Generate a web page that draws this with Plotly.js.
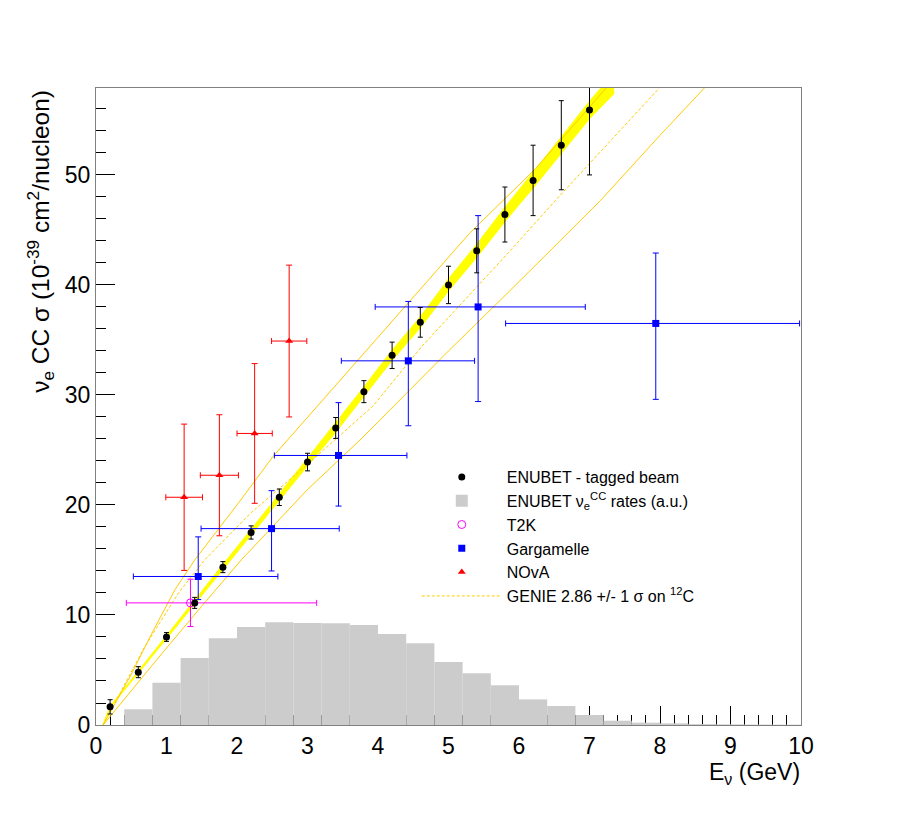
<!DOCTYPE html>
<html><head><meta charset="utf-8">
<script src="https://cdn.plot.ly/plotly-3.0.1.min.js"></script>
<style>html,body{margin:0;padding:0;background:#fff}</style>
</head><body>
<div id="chart" style="width:900px;height:813px"></div>
<script>
// ENUBET tagged beam points
const enuX = [0.2,0.6,1.0,1.4,1.8,2.2,2.6,3.0,3.4,3.8,4.2,4.6,5.0,5.4,5.8,6.2,6.6,7.0];
const enuY = [1.65,4.8,8.0,11.1,14.35,17.5,20.7,23.9,27.0,30.3,33.6,36.6,40.0,43.1,46.4,49.5,52.7,55.9];
const enuErr = [0.65,0.5,0.4,0.5,0.5,0.6,0.75,0.8,0.95,1.0,1.2,1.35,1.7,2.0,2.5,3.2,4.05,5.9];

// ENUBET band (yellow)
const bandX  = [0.1,0.2,0.6,1.0,1.4,1.8,2.2,2.6,3.0,3.4,3.8,4.2,4.6,5.0,5.4,5.8,6.2,6.6,7.0,7.35];
const bandLo = [0.0,1.59,4.7,7.85,10.9,14.11,17.22,20.38,23.54,26.6,29.87,33.13,36.1,39.45,42.5,45.75,48.8,51.95,55.1,57.4];
const bandHi = [0.05,1.71,4.9,8.15,11.3,14.59,17.78,21.02,24.26,27.4,30.73,34.07,37.1,40.55,43.7,47.05,50.2,53.45,56.7,59.3];

// ENUBET nu_e CC rates histogram (a.u.), bin centres, width 0.4
const histX = [0.6,1.0,1.4,1.8,2.2,2.6,3.0,3.4,3.8,4.2,4.6,5.0,5.4,5.8,6.2,6.6,7.0,7.4,7.8,8.2,8.6,9.0,9.4,9.8];
const histY = [1.43,3.85,6.09,7.88,8.91,9.33,9.27,9.24,9.09,8.27,7.42,5.73,4.70,3.61,2.33,1.73,0.91,0.39,0.21,0.15,0.08,0.06,0.04,0.03];

// T2K
const t2kX = [1.34], t2kY = [11.1], t2kXm = [0.91], t2kXp = [1.79], t2kYe = [2.15];

// Gargamelle
const garX  = [1.45,2.49,3.44,4.43,5.42,7.94];
const garY  = [13.5,17.85,24.5,33.1,38.0,36.5];
const garXm = [0.92,1.0,0.91,0.95,1.46,2.13];
const garXp = [1.13,0.96,0.97,0.94,1.52,2.04];
const garYm = [2.1,3.85,4.6,5.9,8.6,6.9];
const garYp = [3.6,3.45,4.8,5.4,8.3,6.4];

// NOvA
const novX  = [1.25,1.75,2.25,2.74];
const novY  = [20.7,22.7,26.5,34.9];
const novXe = [0.26,0.27,0.25,0.25];
const novYe = [6.65,5.5,6.35,6.9];

// GENIE 2.86 +/- 1 sigma on 12C
const genUpX  = [0.1,0.5,0.79,1.12,1.40,2.0,2.51,3.31,4.3,5.3,6.24,7.25];
const genUpY  = [0,4.6,8.3,12.3,15.0,20.0,24.4,30.2,37.4,44.7,50.6,58.0];
const genMidX = [0.1,0.69,1.17,1.54,2.2,3.0,3.93,4.62,5.86,6.52,7.99];
const genMidY = [0,7.1,12.0,15.0,19.3,23.7,29.0,34.4,43.0,47.7,57.9];
const genLoX  = [0.1,0.6,1.0,1.5,2.06,2.5,3.0,3.76,4.16,5.0,5.86,6.48,7.16,8.0,8.63];
const genLoY  = [0,3.9,7.0,10.8,15.0,18.0,21.4,26.0,28.6,34.0,39.4,43.4,47.7,53.6,57.9];

const FONT = 'Liberation Sans, Arial, Helvetica, sans-serif';
const ORANGE = '#ffcc00';

const traces = [
  {type:'bar', x:histX, y:histY, width:0.4, marker:{color:'#cccccc', line:{width:0}},
   name:'ENUBET ν<sub>e</sub><sup>CC</sup> rates (a.u.)', legendrank:2, hoverinfo:'skip'},
  {type:'scatter', mode:'lines', x:bandX, y:bandLo, line:{color:'#ffff00', width:1},
   showlegend:false, hoverinfo:'skip'},
  {type:'scatter', mode:'lines', x:bandX, y:bandHi, line:{color:'#ffff00', width:1},
   fill:'tonexty', fillcolor:'#ffff00', showlegend:false, hoverinfo:'skip'},
  {type:'scatter', mode:'lines', x:genUpX, y:genUpY, line:{color:ORANGE, width:1},
   showlegend:false, hoverinfo:'skip'},
  {type:'scatter', mode:'lines', x:genLoX, y:genLoY, line:{color:ORANGE, width:1},
   showlegend:false, hoverinfo:'skip'},
  {type:'scatter', mode:'lines', x:genMidX, y:genMidY, line:{color:ORANGE, width:1, dash:'3px,2px'},
   name:'GENIE 2.86 +/- 1 σ on <sup>12</sup>C', legendrank:6, hoverinfo:'skip'},
  {type:'scatter', mode:'markers', x:novX, y:novY, name:'NOvA', legendrank:5,
   marker:{symbol:'triangle-up', size:7, color:'#ff0000'},
   error_x:{type:'data', array:novXe, color:'#ff0000', thickness:1, width:3},
   error_y:{type:'data', array:novYe, color:'#ff0000', thickness:1, width:3}},
  {type:'scatter', mode:'markers', x:garX, y:garY, name:'Gargamelle', legendrank:4,
   marker:{symbol:'square', size:7, color:'#0000ff'},
   error_x:{type:'data', symmetric:false, array:garXp, arrayminus:garXm, color:'#0000ff', thickness:1, width:3},
   error_y:{type:'data', symmetric:false, array:garYp, arrayminus:garYm, color:'#0000ff', thickness:1, width:3}},
  {type:'scatter', mode:'markers', x:t2kX, y:t2kY, name:'T2K', legendrank:3,
   marker:{symbol:'circle-open', size:8, color:'#ff00ff', line:{width:1}},
   error_x:{type:'data', symmetric:false, array:t2kXp, arrayminus:t2kXm, color:'#ff00ff', thickness:1, width:3},
   error_y:{type:'data', array:t2kYe, color:'#ff00ff', thickness:1, width:3}},
  {type:'scatter', mode:'markers', x:enuX, y:enuY, name:'ENUBET - tagged beam', legendrank:1,
   marker:{symbol:'circle', size:7, color:'#000000'},
   error_y:{type:'data', array:enuErr, color:'#000000', thickness:1, width:2.5}}
];

const axisCommon = {
  ticks:'inside', tickcolor:'#000', tickwidth:1, showline:true, linecolor:'#808080', linewidth:1,
  mirror:true, showgrid:false, zeroline:false, layer:'below traces',
  tickfont:{family:FONT, size:23, color:'#000'}
};

const layout = {
  width:900, height:813,
  margin:{l:96, r:99, t:88, b:88},
  paper_bgcolor:'#ffffff', plot_bgcolor:'#ffffff',
  showlegend:true,
  barmode:'overlay',
  xaxis:Object.assign({}, axisCommon, {range:[0,10], tick0:0, dtick:1, ticklen:19,
     minor:{dtick:0.2, ticks:'inside', ticklen:10, tickcolor:'#000', tickwidth:1, showgrid:false}}),
  yaxis:Object.assign({}, axisCommon, {range:[0,57.9], tick0:0, dtick:10, ticklen:19,
     minor:{dtick:2, ticks:'inside', ticklen:10, tickcolor:'#000', tickwidth:1, showgrid:false}}),
  legend:{x:0.455, y:0.416, xanchor:'left', yanchor:'top', itemwidth:80, bgcolor:'rgba(0,0,0,0)',
     font:{family:FONT, size:16, color:'#000'}, tracegroupgap:0, traceorder:'normal'},
  annotations:[
    {text:'ν<sub>e</sub> CC σ (10<sup>-39</sup> cm<sup>2</sup>/nucleon)', textangle:-90,
     xref:'paper', yref:'paper', x:-0.079, y:1, xanchor:'center', yanchor:'top', showarrow:false,
     font:{family:FONT, size:24.5, color:'#000'}},
    {text:'E<sub>ν</sub> (GeV)', xref:'paper', yref:'paper', x:1, y:-0.052, xanchor:'right', yanchor:'top',
     borderpad:0, showarrow:false, font:{family:FONT, size:23, color:'#000'}}
  ]
};

Plotly.newPlot('chart', traces, layout, {displayModeBar:false, staticPlot:true});
</script>
</body></html>
